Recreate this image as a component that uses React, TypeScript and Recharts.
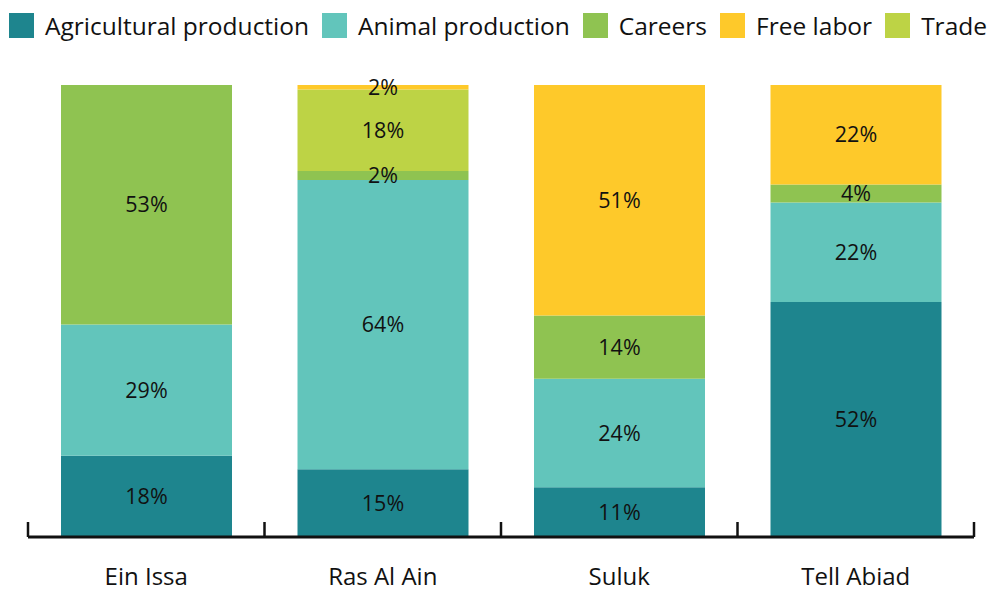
import React from "react";
import { BarChart, Bar, XAxis, YAxis, LabelList } from "recharts";

// categories and shares (%) per livelihood source
const categories = ["Ein Issa", "Ras Al Ain", "Suluk", "Tell Abiad"];
const agricultural = [18, 15, 11, 52];
const animal = [29, 64, 24, 22];
const careers = [53, 2, 14, 4];
const trade = [0, 18, 0, 0];
const freeLabor = [0, 2, 51, 22];

// stacking order, bottom to top
const series = [
  { key: "agricultural", name: "Agricultural production", color: "#1E858E", values: agricultural },
  { key: "animal", name: "Animal production", color: "#62C5BB", values: animal },
  { key: "careers", name: "Careers", color: "#8FC351", values: careers },
  { key: "trade", name: "Trade", color: "#BDD345", values: trade },
  { key: "freeLabor", name: "Free labor", color: "#FEC92A", values: freeLabor },
];

const legendOrder = ["agricultural", "animal", "careers", "freeLabor", "trade"];

const data = categories.map((name, i) => {
  const row: Record<string, string | number> = { name };
  series.forEach((s) => {
    row[s.key] = s.values[i];
  });
  return row;
});

const FONT = "'Open Sans', 'Noto Sans', sans-serif";
const TEXT = "#111111";
const LABEL_GAP = 31;
const EDGE_TICK = 15;

// category label plus the small upward ticks on the band boundaries
const CategoryTick = (props: any) => {
  const { x, y, payload, index } = props;
  const half = payload?.offset ?? 0;
  const base = y - LABEL_GAP;
  const isLast = index === categories.length - 1;
  return (
    <g>
      <line x1={x - half} x2={x - half} y1={base - EDGE_TICK} y2={base} stroke="#111" strokeWidth={2.5} />
      {isLast && (
        <line x1={x + half} x2={x + half} y1={base - EDGE_TICK} y2={base} stroke="#111" strokeWidth={2.5} />
      )}
      <text x={x} y={y} dy="0.71em" textAnchor="middle" fill={TEXT} fontSize={24}>
        {payload.value}
      </text>
    </g>
  );
};

const ChartLegend = () => (
  <div
    style={{
      position: "absolute",
      left: 9,
      top: 13,
      display: "flex",
      alignItems: "center",
      fontSize: 24.5,
      color: TEXT,
      whiteSpace: "nowrap",
    }}
  >
    {legendOrder.map((key) => {
      const s = series.find((x) => x.key === key)!;
      return (
        <div key={key} style={{ display: "flex", alignItems: "center", marginRight: 13 }}>
          <span style={{ width: 25, height: 25, background: s.color, display: "inline-block", marginRight: 11 }} />
          <span style={{ lineHeight: "25px" }}>{s.name}</span>
        </div>
      );
    })}
  </div>
);

export default function App() {
  return (
    <div style={{ position: "absolute", left: 0, top: 0, width: 996, height: 590, fontFamily: FONT, background: "#fff" }}>
      <BarChart
        width={996}
        height={590}
        data={data}
        margin={{ top: 85, right: 22, bottom: 0, left: 28 }}
      >
        <XAxis
          dataKey="name"
          height={53}
          axisLine={{ stroke: "#111", strokeWidth: 3 }}
          tickLine={false}
          tickSize={0}
          tickMargin={LABEL_GAP}
          interval={0}
          tick={<CategoryTick />}
        />
        <YAxis hide domain={[0, 100]} allowDataOverflow />
        {series.map((s) => (
          <Bar
            key={s.key}
            dataKey={s.key}
            name={s.name}
            stackId="a"
            fill={s.color}
            barSize={171}
            isAnimationActive={false}
          >
            <LabelList
              dataKey={s.key}
              position="center"
              fill={TEXT}
              fontSize={21.5}
              formatter={(v: any) => (v ? `${v}%` : "")}
            />
          </Bar>
        ))}
      </BarChart>
      <ChartLegend />
    </div>
  );
}
